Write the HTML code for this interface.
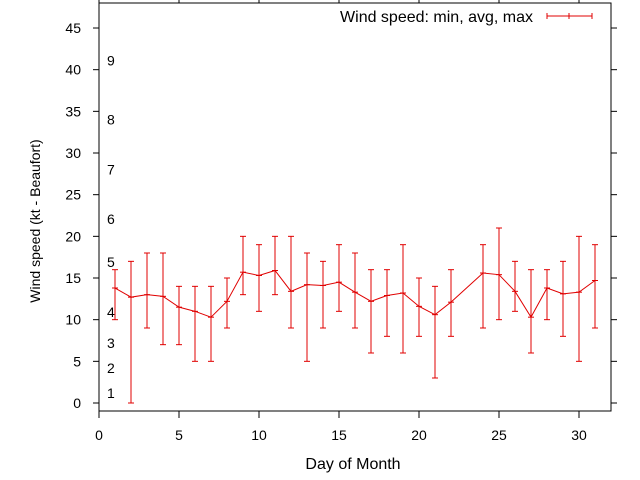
<!DOCTYPE html>
<html><head><meta charset="utf-8"><style>
html,body{margin:0;padding:0;background:#fff;}
svg{display:block;font-family:"Liberation Sans",sans-serif;}
</style></head><body>
<svg id="chart" width="640" height="480" xmlns="http://www.w3.org/2000/svg">
<rect x="0" y="0" width="640" height="480" fill="#fff"/>
<g id="axes"></g>
<g id="beaufort"></g>
<g id="series"></g>
<text x="40" y="221" font-size="14" text-anchor="middle" transform="rotate(-90 40 221)">Wind speed (kt - Beaufort)</text>
<text x="353" y="469" font-size="16" text-anchor="middle">Day of Month</text>
<g>
<text x="533" y="22" font-size="16" text-anchor="end">Wind speed: min, avg, max</text>
<g stroke="#e00000" stroke-width="1">
<line x1="547" y1="16" x2="592" y2="16"/><line x1="547" y1="13" x2="547" y2="19"/><line x1="592" y1="13" x2="592" y2="19"/><line x1="569" y1="13" x2="569" y2="19"/>
</g>
</g>
</svg>
<script>
const days=[1,2,3,4,5,6,7,8,9,10,11,12,13,14,15,16,17,18,19,20,21,22,24,25,26,27,28,29,30,31];
const avgVals=[13.8,12.7,13.0,12.8,11.5,11.0,10.3,12.2,15.7,15.3,15.9,13.4,14.2,14.1,14.5,13.3,12.2,12.9,13.2,11.6,10.6,12.1,15.6,15.4,13.4,10.3,13.8,13.1,13.3,14.7];
const minVals=[10,0,9,7,7,5,5,9,13,11,13,9,5,9,11,9,6,8,6,8,3,8,9,10,11,6,10,8,5,9];
const maxVals=[16,17,18,18,14,14,14,15,20,19,20,20,18,17,19,18,16,16,19,15,14,16,19,21,17,16,16,17,20,19];
const xTicks=[0,5,10,15,20,25,30];
const yTicks=[0,5,10,15,20,25,30,35,40,45];
const beaufortLabels=["1","2","3","4","5","6","7","8","9"];
const beaufortY=[1.2,4.2,7.2,10.9,16.9,22.1,28,34,41.1];
const X0=99,X1=611,Y0=411,Y1=3;
const xMin=0,xMax=32,yBase=403,yPer=8.333;
const sx=v=>X0+(v-xMin)*(X1-X0)/(xMax-xMin);
const sy=v=>yBase-v*yPer;
const NS="http://www.w3.org/2000/svg";
function mk(t,a,p){const e=document.createElementNS(NS,t);for(const k in a)e.setAttribute(k,a[k]);p.appendChild(e);return e;}
const ax=document.getElementById('axes');
const frame=mk('rect',{x:X0,y:Y1,width:X1-X0,height:Y0-Y1,fill:'none',stroke:'#000','stroke-width':1},ax);


xTicks.forEach(v=>{const x=sx(v);
const t=mk('line',{x1:x,y1:Y0,x2:x,y2:Y0+7,stroke:'#000'},ax);


const t2=mk('line',{x1:x,y1:Y1,x2:x,y2:Y1-3,stroke:'#000'},ax);


const l=mk('text',{x:x,y:440,'font-size':14,'text-anchor':'middle'},ax);l.textContent=v;

});
yTicks.forEach(v=>{const y=sy(v);
const t=mk('line',{x1:X0-6,y1:y,x2:X0,y2:y,stroke:'#000'},ax);


const t2=mk('line',{x1:X1,y1:y,x2:X1+6,y2:y,stroke:'#000'},ax);


const l=mk('text',{x:81,y:y+5,'font-size':14,'text-anchor':'end'},ax);l.textContent=v;

});
const bf=document.getElementById('beaufort');
beaufortLabels.forEach((s,i)=>{const l=mk('text',{x:107,y:sy(beaufortY[i])+5,'font-size':14},bf);l.textContent=s;

});
const sg=document.getElementById('series');
days.forEach((d,i)=>{const x=sx(d),y1=sy(minVals[i]),y2=sy(maxVals[i]);
const g=mk('g',{stroke:'#e00000','stroke-width':1},sg);


mk('line',{x1:x,y1:y1,x2:x,y2:y2},g);
mk('line',{x1:x-3,y1:y1,x2:x+3,y2:y1},g);
mk('line',{x1:x-3,y1:y2,x2:x+3,y2:y2},g);
mk('line',{x1:x-3,y1:sy(avgVals[i]),x2:x+3,y2:sy(avgVals[i])},g);});
const pl=mk('polyline',{points:days.map((d,i)=>sx(d)+','+sy(avgVals[i])).join(' '),fill:'none',stroke:'#e00000','stroke-width':1},sg);


</script>
</body></html>
